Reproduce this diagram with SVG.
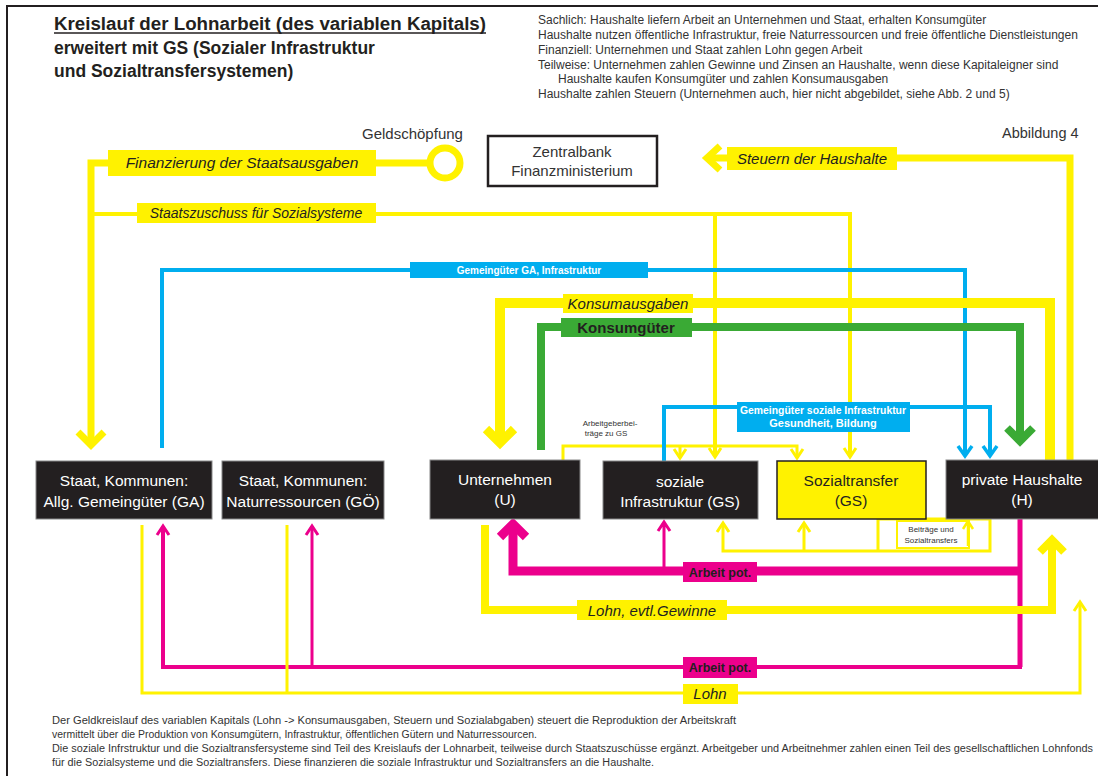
<svg xmlns="http://www.w3.org/2000/svg" width="1098" height="776" viewBox="0 0 1098 776">
<defs>
<style>
text{font-family:"Liberation Sans",Arial,sans-serif;fill:#231f20}
.t{font-weight:bold;font-size:17.5px}
.info{font-size:12px;fill:#333}
.foot{font-size:10px;fill:#333}
.node rect{fill:#231f20;stroke:#888;stroke-width:1}
.node text{fill:#fff;font-size:15.5px;text-anchor:middle}
.y{fill:none;stroke:#fff200;stroke-linejoin:miter;stroke-linecap:butt}
.m{fill:none;stroke:#ec008c;stroke-linejoin:miter}
.b{fill:none;stroke:#00aeef;stroke-linejoin:miter}
.g{fill:none;stroke:#3aaa35;stroke-linejoin:miter}
.ly{fill:#fff200}
.lm{fill:#ec008c}
.lb{fill:#00aeef}
.lg{fill:#3aaa35}
.it{font-style:italic;font-size:15px;text-anchor:middle}
.ap{font-weight:bold;font-size:12.5px;text-anchor:middle}
.sm{font-size:8px;text-anchor:middle;fill:#333}
</style>
</defs>
<rect x="7" y="6" width="1100" height="790" fill="#fff" stroke="#231f20" stroke-width="2"/>

<g id="title">
<text class="t" x="54" y="30" textLength="432" lengthAdjust="spacingAndGlyphs">Kreislauf der Lohnarbeit (des variablen Kapitals)</text>
<line x1="54" y1="33" x2="486" y2="33" stroke="#231f20" stroke-width="1.5"/>
<text class="t" x="54" y="54">erweitert mit GS (Sozialer Infrastruktur</text>
<text class="t" x="54" y="77">und Sozialtransfersystemen)</text>
</g>

<g id="info">
<text class="info" x="538" y="24">Sachlich: Haushalte liefern Arbeit an Unternehmen und Staat, erhalten Konsumgüter</text>
<text class="info" x="538" y="39">Haushalte nutzen öffentliche Infrastruktur, freie Naturressourcen und freie öffentliche Dienstleistungen</text>
<text class="info" x="538" y="54">Finanziell: Unternehmen und Staat zahlen Lohn gegen Arbeit</text>
<text class="info" x="538" y="69">Teilweise: Unternehmen zahlen Gewinne und Zinsen an Haushalte, wenn diese Kapitaleigner sind</text>
<text class="info" x="558" y="83">Haushalte kaufen Konsumgüter und zahlen Konsumausgaben</text>
<text class="info" x="538" y="98">Haushalte zahlen Steuern (Unternehmen auch, hier nicht abgebildet, siehe Abb. 2 und 5)</text>
<text x="362" y="139" style="font-size:15px;fill:#333">Geldschöpfung</text>
<text x="1002" y="138" style="font-size:14.5px;fill:#333">Abbildung 4</text>
</g>

<g id="connectors">
<!-- Finanzierung der Staatsausgaben -->
<path class="y" stroke-width="7" d="M430,163 H91 V444"/>
<path class="y" stroke-width="7" d="M78,432 L91,445 L104,432"/>
<circle cx="445" cy="163" r="15" fill="#fff" stroke="#fff200" stroke-width="7"/>
<!-- Staatszuschuss -->
<path class="y" stroke-width="4" d="M91,214 H850 V456 M715,214 V456"/>
<path class="y" stroke-width="3" d="M709,448 L715,457 L721,448 M844,448 L850,457 L856,448"/>
<!-- Steuern -->
<path class="y" stroke-width="7" d="M708,158 H1070 V460"/>
<path class="y" stroke-width="7" d="M720,146 L707,158 L720,170"/>
<!-- Gemeingüter GA -->
<path class="b" stroke-width="4" d="M162,448 V270 H965 V455"/>
<path class="b" stroke-width="3.5" d="M958,446 L965,456 L972,446"/>
<!-- Konsumausgaben -->
<path class="y" stroke-width="10" d="M1050,460 V303 H500 V443"/>
<path class="y" stroke-width="9" d="M486,429 L500,443 L514,429"/>
<!-- Konsumgüter -->
<path class="g" stroke-width="8" d="M541,450 V327 H1020 V440"/>
<path class="g" stroke-width="8" d="M1007,428 L1020,441 L1033,428"/>
<!-- Arbeitgeberbeiträge -->
<path class="y" stroke-width="3" d="M563,461 V446 H797 V457 M680,446 V457"/>
<path class="y" stroke-width="3" d="M674,449 L680,458 L686,449 M791,449 L797,458 L803,449"/>
<!-- Gemeingüter soziale Infrastruktur -->
<path class="b" stroke-width="4" d="M664,461 V407 H990 V455"/>
<path class="b" stroke-width="3.5" d="M983,446 L990,456 L997,446"/>
<!-- Arbeit pot. upper -->
<path class="m" stroke-width="9" d="M513,528 V571 H1020"/>
<path class="m" stroke-width="5" d="M1020,519 V667"/>
<path class="m" stroke-width="9" d="M500,537 L513,524 L526,537"/>
<path class="m" stroke-width="3" d="M664,571 V523 M658,531 L664,522 L670,531"/>
<!-- Lohn, evtl. Gewinne -->
<path class="y" stroke-width="8" d="M485,525 V610 H1052 V541"/>
<path class="y" stroke-width="8" d="M1040,552 L1052,540 L1064,552"/>
<!-- Arbeit pot. lower -->
<path class="m" stroke-width="4" d="M163,527 V667 H1022"/>
<path class="m" stroke-width="3" d="M312,527 V667"/>
<path class="m" stroke-width="3" d="M157,535 L163,526 L169,535 M306,535 L312,526 L318,535"/>
<!-- Lohn lower -->
<path class="y" stroke-width="3" d="M142,525 V693 H1080 V603 M287,525 V693"/>
<path class="y" stroke-width="3" d="M1074,611 L1080,602 L1086,611"/>
<!-- Beiträge und Sozialtransfers -->
<path class="y" stroke-width="3" d="M723,524 V551 H990 V519 H878 V551 M804,524 V551"/>
<path class="y" stroke-width="3" d="M717,532 L723,523 L729,532 M798,532 L804,523 L810,532"/>
<rect x="897" y="521" width="72" height="27" fill="#fff" stroke="#fff200" stroke-width="2"/>
<path class="y" stroke-width="2.5" d="M968,546 V522 M963,529 L968,521 L973,529"/>
<text class="sm" x="931" y="532">Beiträge und</text>
<text class="sm" x="931" y="543">Sozialtransfers</text>

<!-- labels -->
<rect class="ly" x="108" y="150" width="268" height="26"/>
<text class="it" x="242" y="168" style="font-size:15.5px">Finanzierung der Staatsausgaben</text>
<rect class="ly" x="137" y="203" width="239" height="20"/>
<text class="it" x="256" y="218" style="font-size:14px">Staatszuschuss für Sozialsysteme</text>
<rect class="ly" x="727" y="147" width="170" height="23"/>
<text class="it" x="812" y="164" style="font-size:15px">Steuern der Haushalte</text>
<rect class="lb" x="410" y="262" width="238" height="16"/>
<text x="529" y="274" style="font-size:10px;font-weight:bold;fill:#fff;text-anchor:middle">Gemeingüter GA, Infrastruktur</text>
<rect class="ly" x="563" y="294" width="130" height="19"/>
<text class="it" x="628" y="309">Konsumausgaben</text>
<rect class="lg" x="561" y="318" width="131" height="19"/>
<text x="626" y="333" style="font-size:15px;font-weight:bold;text-anchor:middle">Konsumgüter</text>
<text class="sm" x="610" y="426">Arbeitgeberbei-</text>
<text class="sm" x="606" y="436">träge zu GS</text>
<rect class="lb" x="737" y="402" width="173" height="30"/>
<text x="823" y="414" textLength="166" lengthAdjust="spacingAndGlyphs" style="font-size:11px;font-weight:bold;fill:#fff;text-anchor:middle">Gemeingüter soziale Infrastruktur</text>
<text x="823" y="427" style="font-size:11px;font-weight:bold;fill:#fff;text-anchor:middle">Gesundheit, Bildung</text>
<rect class="lm" x="683" y="562" width="74" height="20"/>
<text class="ap" x="720" y="577">Arbeit pot.</text>
<rect class="ly" x="577" y="600" width="150" height="20"/>
<text class="it" x="652" y="616">Lohn, evtl.Gewinne</text>
<rect class="lm" x="683" y="657" width="74" height="21"/>
<text class="ap" x="720" y="672">Arbeit pot.</text>
<rect class="ly" x="683" y="684" width="55" height="20"/>
<text class="it" x="710" y="699">Lohn</text>
</g>

<g id="zentralbank">
<rect x="488" y="136" width="169" height="50" fill="#fff" stroke="#231f20" stroke-width="2.5"/>
<text x="572" y="157" style="font-size:15px;text-anchor:middle;fill:#333">Zentralbank</text>
<text x="572" y="176" style="font-size:15px;text-anchor:middle;fill:#333">Finanzministerium</text>
</g>
<g id="ga" class="node">
<rect x="36" y="461" width="176" height="58"/>
<text x="124" y="486">Staat, Kommunen:</text>
<text x="124" y="507">Allg. Gemeingüter (GA)</text>
</g>
<g id="go" class="node">
<rect x="222" y="461" width="162" height="58"/>
<text x="303" y="486">Staat, Kommunen:</text>
<text x="303" y="507">Naturressourcen (GÖ)</text>
</g>
<g id="u" class="node">
<rect x="430" y="460" width="150" height="59"/>
<text x="505" y="485">Unternehmen</text>
<text x="505" y="505">(U)</text>
</g>
<g id="si" class="node">
<rect x="603" y="461" width="155" height="58"/>
<text x="680" y="487">soziale</text>
<text x="680" y="507">Infrastruktur (GS)</text>
</g>
<g id="st">
<rect x="777" y="461" width="149" height="58" fill="#fff200" stroke="#231f20" stroke-width="1.5"/>
<text x="851" y="486" style="font-size:15.5px;text-anchor:middle">Sozialtransfer</text>
<text x="851" y="506" style="font-size:15.5px;text-anchor:middle">(GS)</text>
</g>
<g id="h" class="node">
<rect x="946" y="460" width="160" height="59"/>
<text x="1022" y="485">private Haushalte</text>
<text x="1022" y="505">(H)</text>
</g>

<g id="footer">
<text class="foot" x="52" y="724" textLength="684" lengthAdjust="spacingAndGlyphs">Der Geldkreislauf des variablen Kapitals (Lohn -&gt; Konsumausgaben, Steuern und Sozialabgaben) steuert die Reproduktion der Arbeitskraft</text>
<text class="foot" x="52" y="738" textLength="485" lengthAdjust="spacingAndGlyphs">vermittelt über die Produktion von Konsumgütern, Infrastruktur, öffentlichen Gütern und Naturressourcen.</text>
<text class="foot" x="52" y="752" textLength="1041" lengthAdjust="spacingAndGlyphs">Die soziale Infrstruktur und die Sozialtransfersysteme sind Teil des Kreislaufs der Lohnarbeit, teilweise durch Staatszuschüsse ergänzt. Arbeitgeber und Arbeitnehmer zahlen einen Teil des gesellschaftlichen Lohnfonds</text>
<text class="foot" x="52" y="766" textLength="602" lengthAdjust="spacingAndGlyphs">für die Sozialsysteme und die Sozialtransfers. Diese finanzieren die soziale Infrastruktur und Sozialtransfers an die Haushalte.</text>
</g>
</svg>
